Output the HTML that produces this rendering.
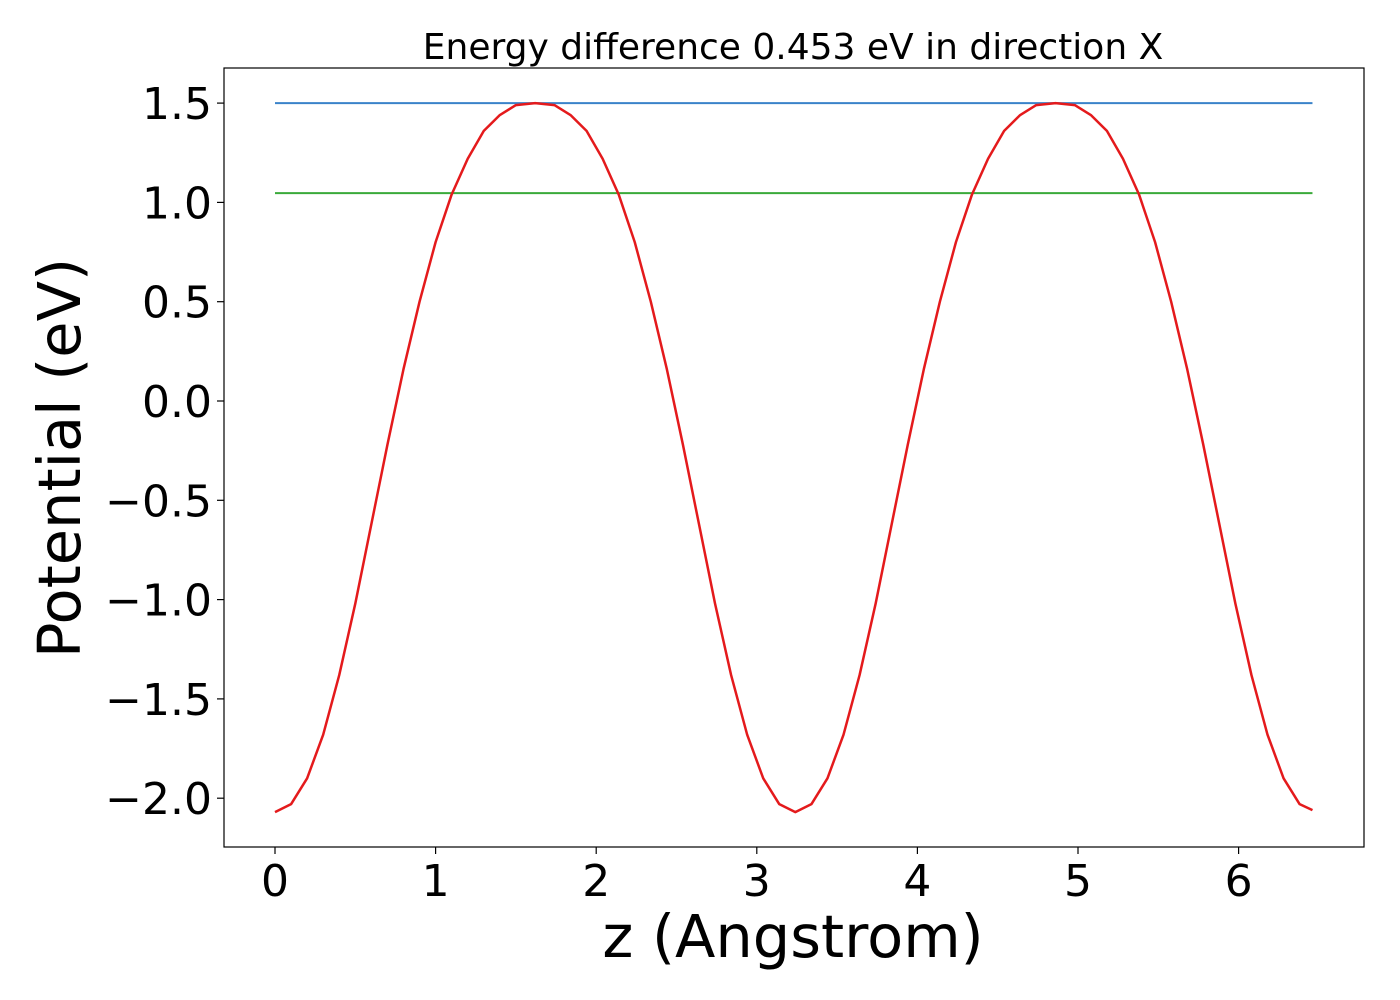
<!DOCTYPE html>
<html><head><meta charset="utf-8"><style>
body{margin:0;background:#fff;}
svg{display:block;font-family:"DejaVu Sans","Liberation Sans",sans-serif;}
</style></head><body>
<svg id="chart" width="1400" height="1000">
<rect x="0" y="0" width="1400" height="1000" fill="#fff"/>
<text x="793" y="59" font-size="36" text-anchor="middle" fill="#000">Energy difference 0.453 eV in direction X</text>
<g id="plot"></g>
<rect x="224" y="68" width="1140" height="779" fill="none" stroke="#000" stroke-width="1.2"/>
<text x="793" y="957" font-size="59" text-anchor="middle">z (Angstrom)</text>
<text transform="translate(80,458) rotate(-90)" font-size="59" text-anchor="middle">Potential (eV)</text>
</svg>
<script>
const zValues=[0,0.1,0.2,0.3,0.4,0.5,0.6,0.7,0.8,0.9,1.0,1.1,1.2,1.3,1.4,1.5,1.62,
1.74,1.84,1.94,2.04,2.14,2.24,2.34,2.44,2.54,2.64,2.74,2.84,2.94,3.04,3.14,3.24,
3.34,3.44,3.54,3.64,3.74,3.84,3.94,4.04,4.14,4.24,4.34,4.44,4.54,4.64,4.74,4.86,
4.98,5.08,5.18,5.28,5.38,5.48,5.58,5.68,5.78,5.88,5.98,6.08,6.18,6.28,6.38,6.46];
const potentialValues=[-2.07,-2.03,-1.90,-1.68,-1.38,-1.02,-0.62,-0.22,0.16,0.50,0.80,1.04,1.22,1.36,1.44,1.49,1.50,
1.49,1.44,1.36,1.22,1.04,0.80,0.50,0.16,-0.22,-0.62,-1.02,-1.38,-1.68,-1.90,-2.03,-2.07,
-2.03,-1.90,-1.68,-1.38,-1.02,-0.62,-0.22,0.16,0.50,0.80,1.04,1.22,1.36,1.44,1.49,1.50,
1.49,1.44,1.36,1.22,1.04,0.80,0.50,0.16,-0.22,-0.62,-1.02,-1.38,-1.68,-1.90,-2.03,-2.06];
const maxLevel=1.50;
const refLevel=1.047;
const xTicks=[0,1,2,3,4,5,6];
const xTickLabels=["0","1","2","3","4","5","6"];
const yTicks=[1.5,1.0,0.5,0.0,-0.5,-1.0,-1.5,-2.0];
const yTickLabels=["1.5","1.0","0.5","0.0","\u22120.5","\u22121.0","\u22121.5","\u22122.0"];

const NS="http://www.w3.org/2000/svg";
const sx=v=>275+v*160.6;
const sy=v=>401-v*198.6;
const svg=document.getElementById('chart');
const plot=document.getElementById('plot');
function mk(t,a,p){const e=document.createElementNS(NS,t);for(const k in a)e.setAttribute(k,a[k]);(p||svg).appendChild(e);return e;}
const x0=zValues[0], x1=zValues[zValues.length-1];
let e=mk('line',{x1:sx(x0),x2:sx(x1),y1:sy(maxLevel),y2:sy(maxLevel),stroke:'#3a82c9','stroke-width':2},plot);


e=mk('line',{x1:sx(x0),x2:sx(x1),y1:sy(refLevel),y2:sy(refLevel),stroke:'#3aaa3a','stroke-width':2},plot);


e=mk('polyline',{points:zValues.map((z,i)=>sx(z)+','+sy(potentialValues[i])).join(' '),fill:'none',stroke:'#e41a1c','stroke-width':2.5,'stroke-linejoin':'round'},plot);


xTicks.forEach((v,i)=>{
 let t=mk('line',{x1:sx(v),x2:sx(v),y1:847,y2:854,stroke:'#000','stroke-width':1.2});
 
 
 let l=mk('text',{x:sx(v),y:896,'font-size':44,'text-anchor':'middle'});
 l.textContent=xTickLabels[i];
 
 
});
yTicks.forEach((v,i)=>{
 let t=mk('line',{x1:217,x2:224,y1:sy(v),y2:sy(v),stroke:'#000','stroke-width':1.2});
 
 
 let l=mk('text',{x:212,y:sy(v)+16,'font-size':44,'text-anchor':'end'});
 l.textContent=yTickLabels[i];
 
 
});
</script>
</body></html>
